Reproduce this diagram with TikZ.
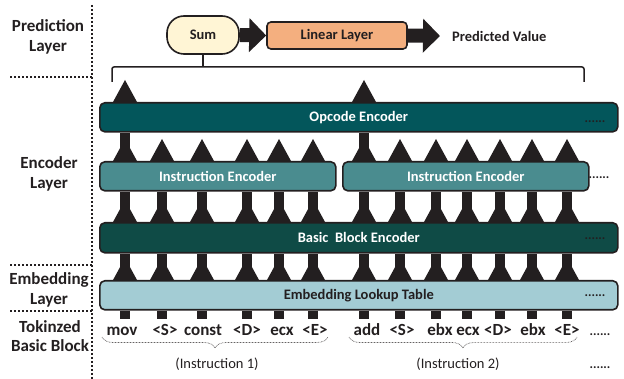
\documentclass[tikz,border=0pt]{standalone}
\usepackage{fontspec}
\setmainfont{Carlito}
\usetikzlibrary{calc,arrows.meta,decorations.pathreplacing}

\definecolor{opcodecol}{HTML}{03565B}
\definecolor{instrcol}{HTML}{4A8C8F}
\definecolor{blockcol}{HTML}{0F4B46}
\definecolor{embedcol}{HTML}{A3CCD4}
\definecolor{sumcol}{HTML}{FFF5D5}
\definecolor{linearcol}{HTML}{F4AF7F}
\definecolor{inkcol}{HTML}{231F20}

\begin{document}
\begin{tikzpicture}[x=1pt, y=-1pt,
	every node/.style={inner sep=0pt, text=inkcol},
	layer/.style={draw=inkcol, line width=1.6pt, rounded corners=5pt, minimum height=29pt, anchor=north west, font=\bfseries\fontsize{14.5}{16}\selectfont},
	side/.style={align=center, font=\bfseries\fontsize{17}{19.5}\selectfont},
	token/.style={anchor=base, font=\bfseries\fontsize{17}{19}\selectfont},
	more/.style={anchor=base, font=\bfseries\fontsize{13}{15}\selectfont},
	sep/.style={line width=2pt, dash pattern=on 2pt off 2pt, inkcol},
	stem/.style={line width=10pt, inkcol},
	bigarrow/.style={line width=14pt, inkcol, -{Triangle[width=33pt,length=17pt]}},
	group/.style={inkcol!70, line width=0.7pt, dash pattern=on 0.7pt off 0.8pt, decorate, decoration={brace, mirror, amplitude=11pt}},
	uptip/.pic={\fill[inkcol] (-12,0) -- (12,0) -- (0,-22) -- cycle;},
	]
	\useasboundingbox (0,0) rectangle (624,379);

	\node[side] (lpred) at (48,37) {Prediction\\Layer};
	\node[side] (lenc) at (49,174) {Encoder\\Layer};
	\node[side] (lemb) at (49,290) {Embedding\\Layer};
	\node[side] (ltok) at (50,336) {Tokinzed\\Basic Block};
	\draw[sep] (92,5) -- (92,379);
	\draw[sep] (10,77) -- (92,77);
	\draw[sep] (10,265) -- (92,265);
	\draw[sep] (10,311) -- (92,311);

	\node[draw=inkcol, line width=1.6pt, fill=sumcol, rounded corners=17pt, minimum width=72pt, minimum height=38pt, font=\bfseries\fontsize{14.5}{16}\selectfont] (sum) at (203,35) {Sum};
	\node[draw=inkcol, line width=1.6pt, fill=linearcol, rounded corners=4pt, minimum width=140pt, minimum height=27pt, font=\bfseries\fontsize{14.5}{16}\selectfont] (lin) at (337,35.5) {Linear Layer};
	\node[anchor=west, font=\bfseries\fontsize{14.5}{16}\selectfont] (pred) at (452,36) {Predicted Value};
	\draw[bigarrow] (sum.east) -- (lin.west);
	\draw[bigarrow] (lin.east) -- ($(pred.west)+(-12,0)$);

	\coordinate (brk) at (0,67);
	\coordinate (brl) at (112,82);
	\coordinate (brr) at (584,82);
	\draw[line width=1.5pt, inkcol, rounded corners=2pt] (brl) |- (sum.south |- brk) -| (brr);
	\draw[line width=1.5pt, inkcol] (sum.south) -- (sum.south |- brk);

	\node[layer, fill=opcodecol, minimum width=518pt, text=white] (opc) at (99,102) {Opcode Encoder};
	\node[layer, fill=instrcol, minimum width=236pt, text=white] (ins1) at (99,161) {Instruction Encoder};
	\node[layer, fill=instrcol, minimum width=246pt, text=white] (ins2) at (342,161) {Instruction Encoder};
	\node[layer, fill=blockcol, minimum width=518pt, minimum height=30pt, text=white] (bbe) at (99,222) {Basic\ \ Block Encoder};
	\node[layer, fill=embedcol, minimum width=518pt] (emb) at (99,280) {Embedding Lookup Table};
	\node[more] (opcdots) at (595,123) {......};
	\node[more] (insdots) at (599,179) {......};
	\node[more] (bbedots) at (595,240) {......};
	\node[more] (embdots) at (595,297) {......};

	\foreach \x [count=\i] in {125,162,202,247,279,313,364,400,436,467,500,532,567}
		\coordinate (c\i) at (\x,0);
	\foreach \i in {1,...,13} {
		\draw[stem] (emb.north -| c\i) -- (bbe.south -| c\i);
		\pic at (emb.north -| c\i) {uptip};
		\draw[stem] (bbe.north -| c\i) -- (ins1.south -| c\i);
		\pic at (bbe.north -| c\i) {uptip};
		\pic at (ins1.north -| c\i) {uptip};
		\draw[stem] (emb.south -| c\i) -- ++(0,8);
	}
	\foreach \i in {1,7} {
		\draw[stem] (ins1.north -| c\i) -- (opc.south -| c\i);
		\pic at (opc.north -| c\i) {uptip};
	}

	\foreach \t/\x [count=\i] in {mov/122,<S>/165,const/203,<D>/247,ecx/282,<E>/315,add/367,<S>/402,ebx/440,ecx/468,<D>/498,ebx/533,<E>/567}
		\node[token] (tk\i) at (\x,336) {\t};
	\node[more] (tkdots) at (600,336) {......};

	\draw[group] (102,337) -- (328,337);
	\draw[group] (349,337) -- (577,337);
	\node[font=\fontsize{14.5}{16}\selectfont] (lab1) at (217,364) {(Instruction 1)};
	\node[font=\fontsize{14.5}{16}\selectfont] (lab2) at (458,364) {(Instruction 2)};
	\node[more] (labdots) at (600,368) {......};
\end{tikzpicture}
\end{document}
